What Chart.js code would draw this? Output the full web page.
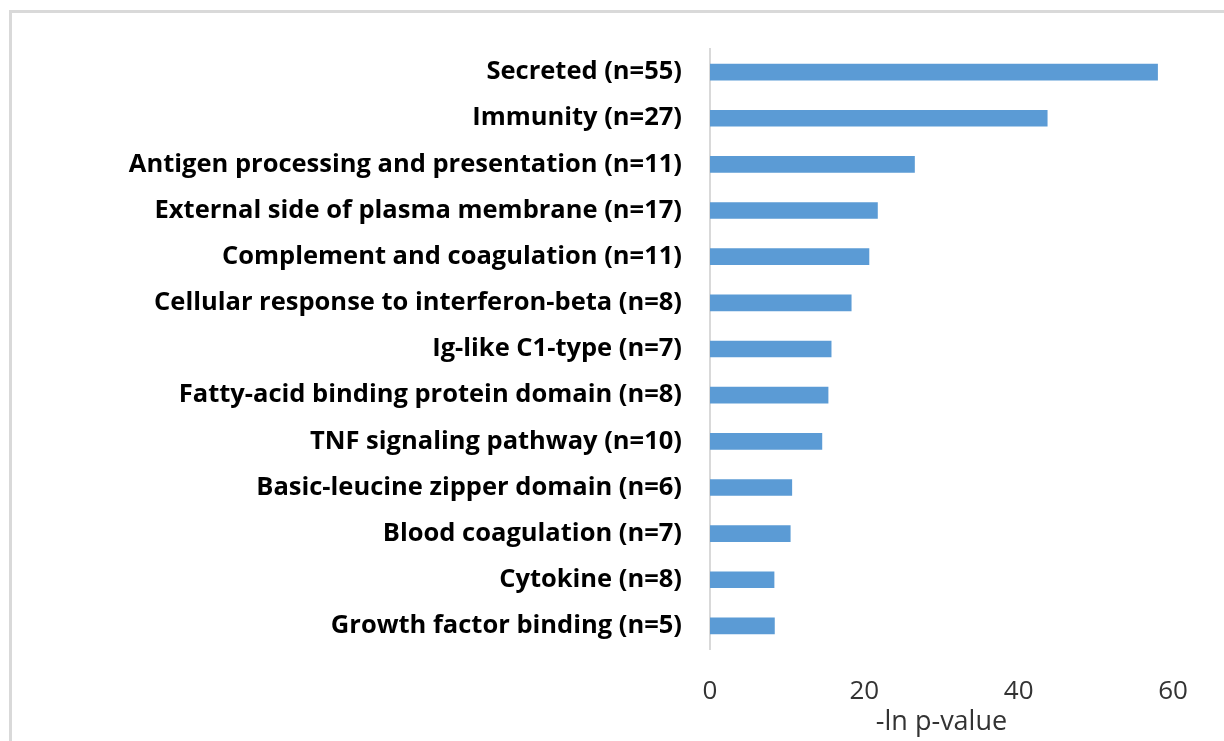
<!DOCTYPE html>
<html>
<head>
<meta charset="utf-8">
<script src="https://cdn.jsdelivr.net/npm/chart.js@4"></script>
<style>
  html, body { margin: 0; padding: 0; background: #fff; overflow: hidden; }
  .frame {
    position: absolute; left: 9px; top: 10px;
    width: 1260px; height: 780px;
    border: 3px solid #d9d9d9;
  }
  .wrap { position: absolute; left: 0; top: 0; width: 1224px; height: 741px; }
</style>
</head>
<body>
<div class="frame"></div>
<div class="wrap"><canvas id="chart"></canvas></div>
<script>
const categories = [
  'Secreted (n=55)',
  'Immunity (n=27)',
  'Antigen processing and presentation (n=11)',
  'External side of plasma membrane (n=17)',
  'Complement and coagulation (n=11)',
  'Cellular response to interferon-beta (n=8)',
  'Ig-like C1-type (n=7)',
  'Fatty-acid binding protein domain (n=8)',
  'TNF signaling pathway (n=10)',
  'Basic-leucine zipper domain (n=6)',
  'Blood coagulation (n=7)',
  'Cytokine (n=8)',
  'Growth factor binding (n=5)'
];
const lnPValues = [58.0, 43.7, 26.5, 21.7, 20.6, 18.3, 15.7, 15.3, 14.5, 10.6, 10.4, 8.3, 8.35];
const xTicks = [0, 20, 40, 60];

const ctx = document.getElementById('chart').getContext('2d');
new Chart(ctx, {
  type: 'bar',
  data: {
    labels: categories,
    datasets: [{
      data: lnPValues,
      backgroundColor: '#5b9bd5',
      borderWidth: 0,
      barThickness: 16
    }]
  },
  options: {
    indexAxis: 'y',
    responsive: true,
    maintainAspectRatio: false,
    animation: false,
    layout: { padding: { top: 49, right: 51, left: 0, bottom: 0 } },
    plugins: {
      legend: { display: false },
      tooltip: { enabled: false }
    },
    scales: {
      x: {
        min: xTicks[0],
        max: xTicks[xTicks.length - 1],
        afterBuildTicks: (scale) => { scale.ticks = xTicks.map(v => ({ value: v })); },
        afterFit: (scale) => { scale.height = 92; },
        grid: { display: false, drawTicks: false },
        border: { display: false },
        ticks: {
          padding: 27,
          color: '#333',
          font: { family: 'Open Sans', size: 26 }
        },
        title: {
          display: true,
          text: '-ln p-value',
          color: '#333',
          padding: { top: 0, bottom: 2 },
          font: { family: 'Open Sans', size: 27 }
        }
      },
      y: {
        afterFit: (scale) => { scale.width = 710; },
        grid: { display: false, drawTicks: false },
        border: { display: true, color: '#d9d9d9', width: 2 },
        ticks: {
          padding: 28,
          color: '#000',
          font: { family: 'Open Sans', size: 25.5, weight: 'bold' }
        }
      }
    }
  }
});
</script>
</body>
</html>
